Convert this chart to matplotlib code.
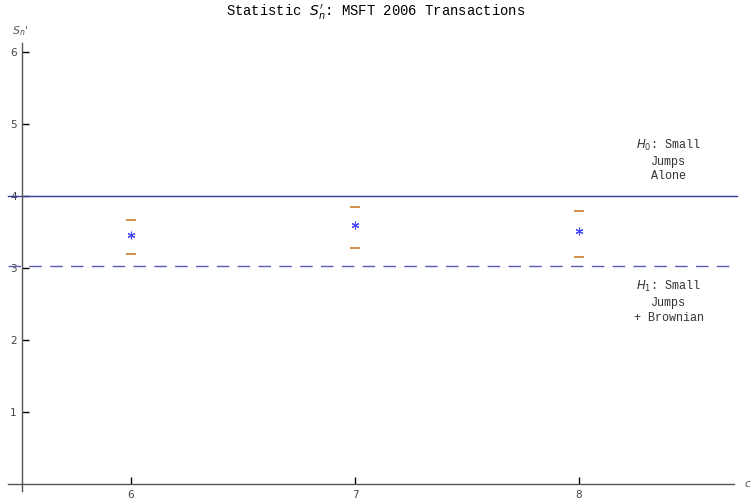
import numpy as np
import matplotlib.pyplot as plt

# values
c_values = [6, 7, 8]
s_mid = [3.467, 3.601, 3.518]
s_upper = [3.675, 3.847, 3.800]
s_lower = [3.194, 3.286, 3.161]
h0_level = 4.0
h1_level = 3.03
x_ticks = [6, 7, 8]
y_ticks = [1, 2, 3, 4, 5, 6]

if __name__ == "__main__":
    fig = plt.figure(figsize=(7.51, 5.01), dpi=100)
    ax = fig.add_axes([0, 0, 1, 1])
    ax.set_xlim(5.415, 8.768)
    ax.set_ylim(-0.232, 6.726)
    ax.patch.set_visible(False)

    axis_col = '#555555'
    # Mathematica-style axes crossing at (5.515, 0)
    ax.spines['top'].set_visible(False)
    ax.spines['right'].set_visible(False)
    ax.spines['left'].set_position(('data', 5.515))
    ax.spines['bottom'].set_position(('data', 0))
    ax.spines['left'].set_bounds(-0.1, 6.125)
    ax.spines['bottom'].set_bounds(5.45, 8.69)
    for s in ['left', 'bottom']:
        ax.spines[s].set_color(axis_col)
        ax.spines[s].set_linewidth(1.0)

    ax.set_xticks(x_ticks)
    ax.set_yticks(y_ticks)
    ax.tick_params(axis='x', direction='in', length=5, width=1, color='black',
                   labelsize=7.5, labelcolor='#444444', pad=4)
    ax.tick_params(axis='y', direction='in', length=5, width=1, color='black',
                   labelsize=7.5, labelcolor='#444444', pad=4)

    # hypothesis levels
    ax.plot([5.451, 8.705], [h0_level, h0_level], color='#3a3a9e', lw=1.0)
    ax.plot([5.451, 8.705], [h1_level, h1_level], color='#5a5ab8', lw=1.0,
            dashes=(9, 6))

    # confidence bounds and estimates
    ax.plot(c_values, s_upper, ls='none', marker='_', ms=7, mew=1.4,
            color='#d0904a')
    ax.plot(c_values, s_lower, ls='none', marker='_', ms=7, mew=1.4,
            color='#d0904a')
    ax.plot(c_values, s_mid, ls='none', marker=(6, 2, 0), ms=5.5, mew=0.8,
            color='#4646ff')

    fig.text(0.5, 1 - 12 / 501, "Statistic $S_n'$: MSFT 2006 Transactions",
             family='Liberation Mono', fontsize=10, ha='center', va='center')

    mono = dict(family='Liberation Mono', fontsize=8.5, ha='center',
                va='center', linespacing=1.3, color='#333333')
    ax.text(8.40, 4.504, "$H_0$: Small\nJumps\nAlone", **mono)
    ax.text(8.40, 2.539, "$H_1$: Small\nJumps\n+ Brownian", **mono)

    ax.text(5.505, 6.30, "$S_n$'", fontsize=8, color='#555555',
            ha='center', va='center')
    ax.text(8.737, 0.0, "$c$", fontsize=7.5, color='#555555',
            ha='left', va='center')

    plt.savefig('out.png', dpi=100)
